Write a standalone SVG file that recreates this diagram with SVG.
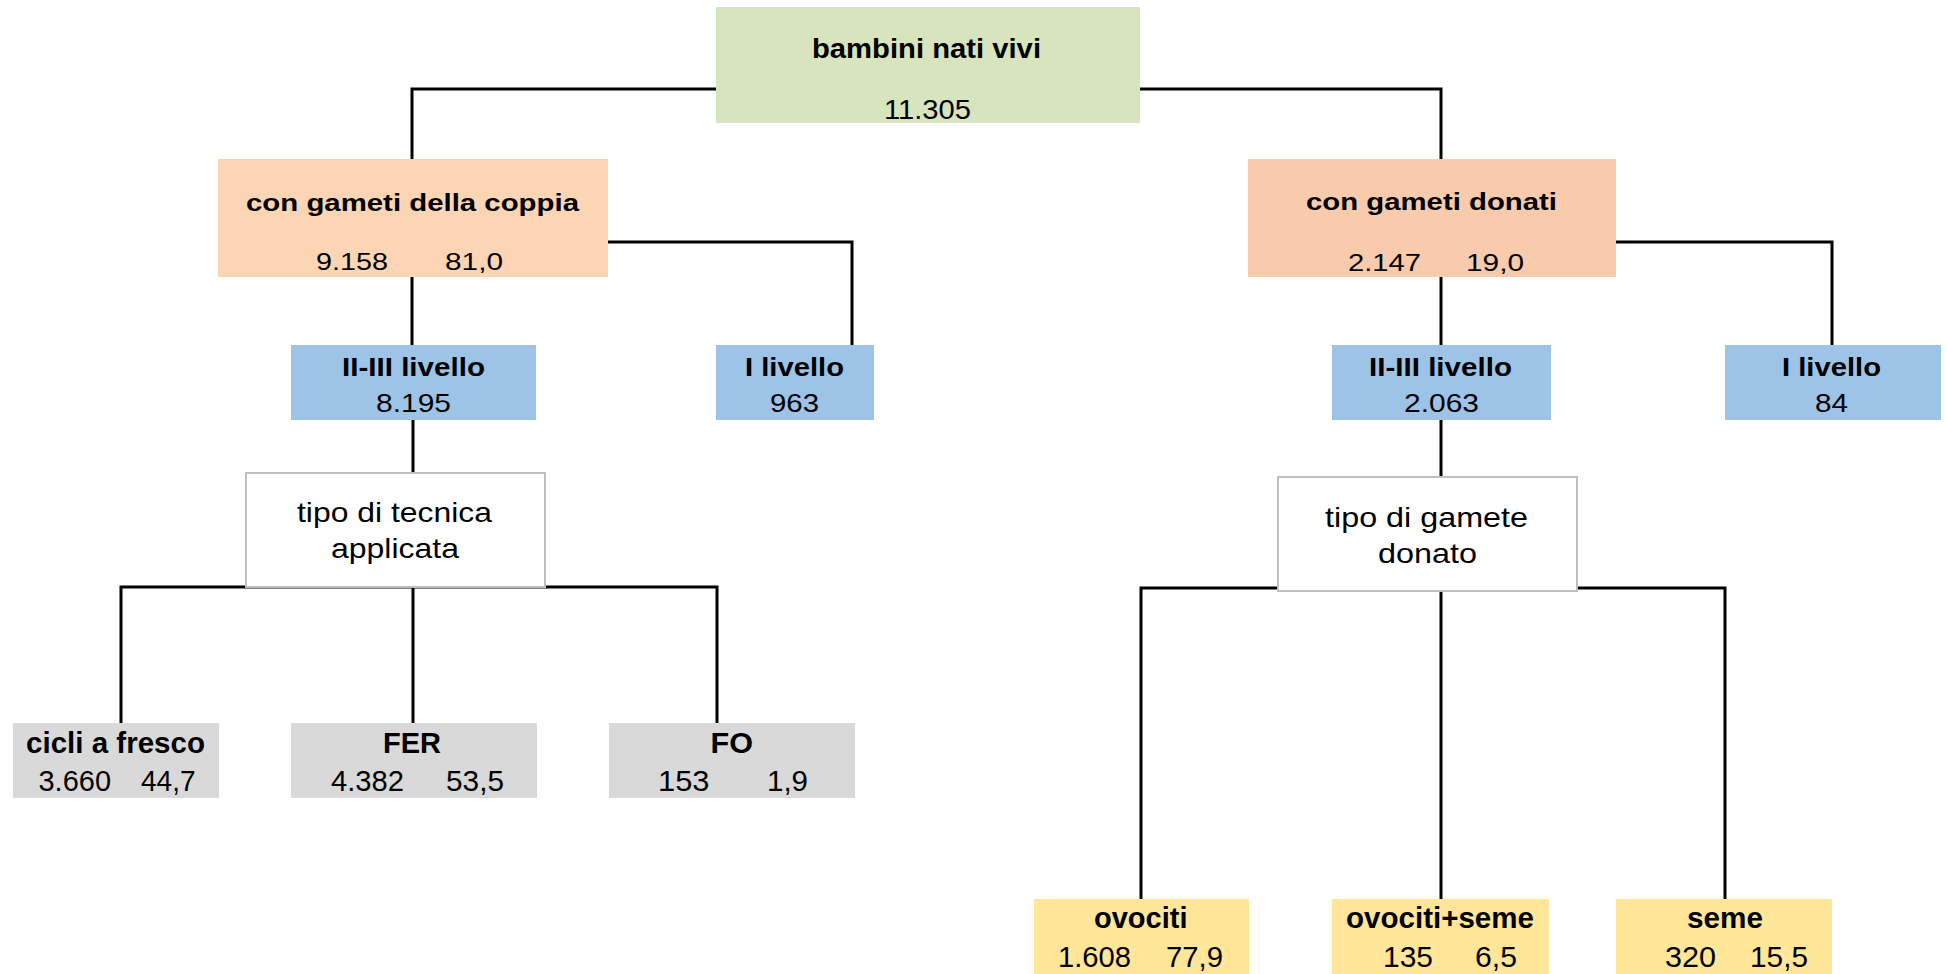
<svg xmlns="http://www.w3.org/2000/svg" width="1948" height="974" viewBox="0 0 1948 974">
<style>
.c{fill:none;stroke:#000;stroke-width:3}
.t{font-family:"Liberation Sans",Arial,sans-serif;fill:#000}
.b{font-weight:bold}
.green{fill:#d7e4bd}
.peach{fill:#fcd5b5}
.salmon{fill:#f8cbad}
.blue{fill:#9dc3e6}
.gray{fill:#d9d9d9}
.yellow{fill:#ffe699}
.white{fill:#fff;stroke:#bfbfbf;stroke-width:2}
</style>
<rect width="1948" height="974" fill="#fff"/>
<g id="connectors">
<path class="c" d="M412,159 V89 H1441 V159"/>
<path class="c" d="M412,277 V345"/>
<path class="c" d="M608,242 H852 V345"/>
<path class="c" d="M1441,277 V345"/>
<path class="c" d="M1616,242 H1832 V345"/>
<path class="c" d="M413,420 V473"/>
<path class="c" d="M1441,420 V477"/>
<path class="c" d="M121,723 V587 H717 V723"/>
<path class="c" d="M413,587 V723"/>
<path class="c" d="M1141,899 V588 H1725 V899"/>
<path class="c" d="M1441,590 V899"/>
</g>
<g id="root">
<rect class="green" x="716" y="7" width="424" height="116"/>
<text class="t b" x="812" y="58" font-size="27" textLength="229" lengthAdjust="spacingAndGlyphs">bambini nati vivi</text>
<text class="t" x="884" y="119" font-size="27" textLength="87" lengthAdjust="spacingAndGlyphs">11.305</text>
</g>
<g id="coppia">
<rect class="peach" x="218" y="159" width="390" height="118"/>
<text class="t b" x="246" y="211" font-size="24.5" textLength="333" lengthAdjust="spacingAndGlyphs">con gameti della coppia</text>
<text class="t" x="316" y="270" font-size="24" textLength="72" lengthAdjust="spacingAndGlyphs">9.158</text>
<text class="t" x="445" y="270" font-size="24" textLength="58" lengthAdjust="spacingAndGlyphs">81,0</text>
</g>
<g id="donati">
<rect class="salmon" x="1248" y="159" width="368" height="118"/>
<text class="t b" x="1306" y="210" font-size="24.5" textLength="251" lengthAdjust="spacingAndGlyphs">con gameti donati</text>
<text class="t" x="1348" y="270.5" font-size="24" textLength="73" lengthAdjust="spacingAndGlyphs">2.147</text>
<text class="t" x="1466" y="270.5" font-size="24" textLength="58" lengthAdjust="spacingAndGlyphs">19,0</text>
</g>
<g id="livello23-left">
<rect class="blue" x="291" y="345" width="245" height="75"/>
<text class="t b" x="342" y="375.5" font-size="26.5" textLength="143" lengthAdjust="spacingAndGlyphs">II-III livello</text>
<text class="t" x="376" y="412" font-size="26.5" textLength="75" lengthAdjust="spacingAndGlyphs">8.195</text>
</g>
<g id="livello1-left">
<rect class="blue" x="716" y="345" width="158" height="75"/>
<text class="t b" x="745" y="375.5" font-size="26.5" textLength="99" lengthAdjust="spacingAndGlyphs">I livello</text>
<text class="t" x="770" y="411.5" font-size="26.5" textLength="49" lengthAdjust="spacingAndGlyphs">963</text>
</g>
<g id="livello23-right">
<rect class="blue" x="1332" y="345" width="219" height="75"/>
<text class="t b" x="1369" y="375.5" font-size="26.5" textLength="143" lengthAdjust="spacingAndGlyphs">II-III livello</text>
<text class="t" x="1404" y="412" font-size="26.5" textLength="75" lengthAdjust="spacingAndGlyphs">2.063</text>
</g>
<g id="livello1-right">
<rect class="blue" x="1725" y="345" width="216" height="75"/>
<text class="t b" x="1782" y="375.5" font-size="26.5" textLength="99" lengthAdjust="spacingAndGlyphs">I livello</text>
<text class="t" x="1815" y="411.5" font-size="26.5" textLength="33" lengthAdjust="spacingAndGlyphs">84</text>
</g>
<g id="tecnica">
<rect class="white" x="246" y="473" width="299" height="114"/>
<text class="t" x="297" y="521.5" font-size="28" textLength="195" lengthAdjust="spacingAndGlyphs">tipo di tecnica</text>
<text class="t" x="331" y="558" font-size="28" textLength="128" lengthAdjust="spacingAndGlyphs">applicata</text>
</g>
<g id="gamete">
<rect class="white" x="1278" y="477" width="299" height="114"/>
<text class="t" x="1325" y="526.5" font-size="28" textLength="203" lengthAdjust="spacingAndGlyphs">tipo di gamete</text>
<text class="t" x="1378" y="563" font-size="28" textLength="99" lengthAdjust="spacingAndGlyphs">donato</text>
</g>
<g id="cicli">
<rect class="gray" x="13" y="723" width="206" height="75"/>
<text class="t b" x="26" y="753.3" font-size="29" textLength="179" lengthAdjust="spacingAndGlyphs">cicli a fresco</text>
<text class="t" x="38.5" y="790.7" font-size="29" textLength="72.5" lengthAdjust="spacingAndGlyphs">3.660</text>
<text class="t" x="141" y="790.7" font-size="29" textLength="54.5" lengthAdjust="spacingAndGlyphs">44,7</text>
</g>
<g id="fer">
<rect class="gray" x="291" y="723" width="246" height="75"/>
<text class="t b" x="383" y="753.3" font-size="29" textLength="58" lengthAdjust="spacingAndGlyphs">FER</text>
<text class="t" x="331" y="790.7" font-size="29" textLength="73" lengthAdjust="spacingAndGlyphs">4.382</text>
<text class="t" x="446" y="790.7" font-size="29" textLength="58" lengthAdjust="spacingAndGlyphs">53,5</text>
</g>
<g id="fo">
<rect class="gray" x="609" y="723" width="246" height="75"/>
<text class="t b" x="710.5" y="753.3" font-size="29" textLength="42.5" lengthAdjust="spacingAndGlyphs">FO</text>
<text class="t" x="658" y="790.7" font-size="29" textLength="51.5" lengthAdjust="spacingAndGlyphs">153</text>
<text class="t" x="767" y="790.7" font-size="29" textLength="41" lengthAdjust="spacingAndGlyphs">1,9</text>
</g>
<g id="ovociti">
<rect class="yellow" x="1034" y="899" width="215" height="75"/>
<text class="t b" x="1094" y="928.3" font-size="29" textLength="93.5" lengthAdjust="spacingAndGlyphs">ovociti</text>
<text class="t" x="1058" y="967.3" font-size="29" textLength="73" lengthAdjust="spacingAndGlyphs">1.608</text>
<text class="t" x="1166" y="967.3" font-size="29" textLength="57" lengthAdjust="spacingAndGlyphs">77,9</text>
</g>
<g id="ovociti-seme">
<rect class="yellow" x="1332" y="899" width="217" height="75"/>
<text class="t b" x="1346" y="928.3" font-size="29" textLength="188" lengthAdjust="spacingAndGlyphs">ovociti+seme</text>
<text class="t" x="1383" y="967.3" font-size="29" textLength="50" lengthAdjust="spacingAndGlyphs">135</text>
<text class="t" x="1475" y="967.3" font-size="29" textLength="42" lengthAdjust="spacingAndGlyphs">6,5</text>
</g>
<g id="seme">
<rect class="yellow" x="1616" y="899" width="216" height="75"/>
<text class="t b" x="1687" y="928.3" font-size="29" textLength="76" lengthAdjust="spacingAndGlyphs">seme</text>
<text class="t" x="1665" y="967.3" font-size="29" textLength="51" lengthAdjust="spacingAndGlyphs">320</text>
<text class="t" x="1750" y="967.3" font-size="29" textLength="58" lengthAdjust="spacingAndGlyphs">15,5</text>
</g>
</svg>
